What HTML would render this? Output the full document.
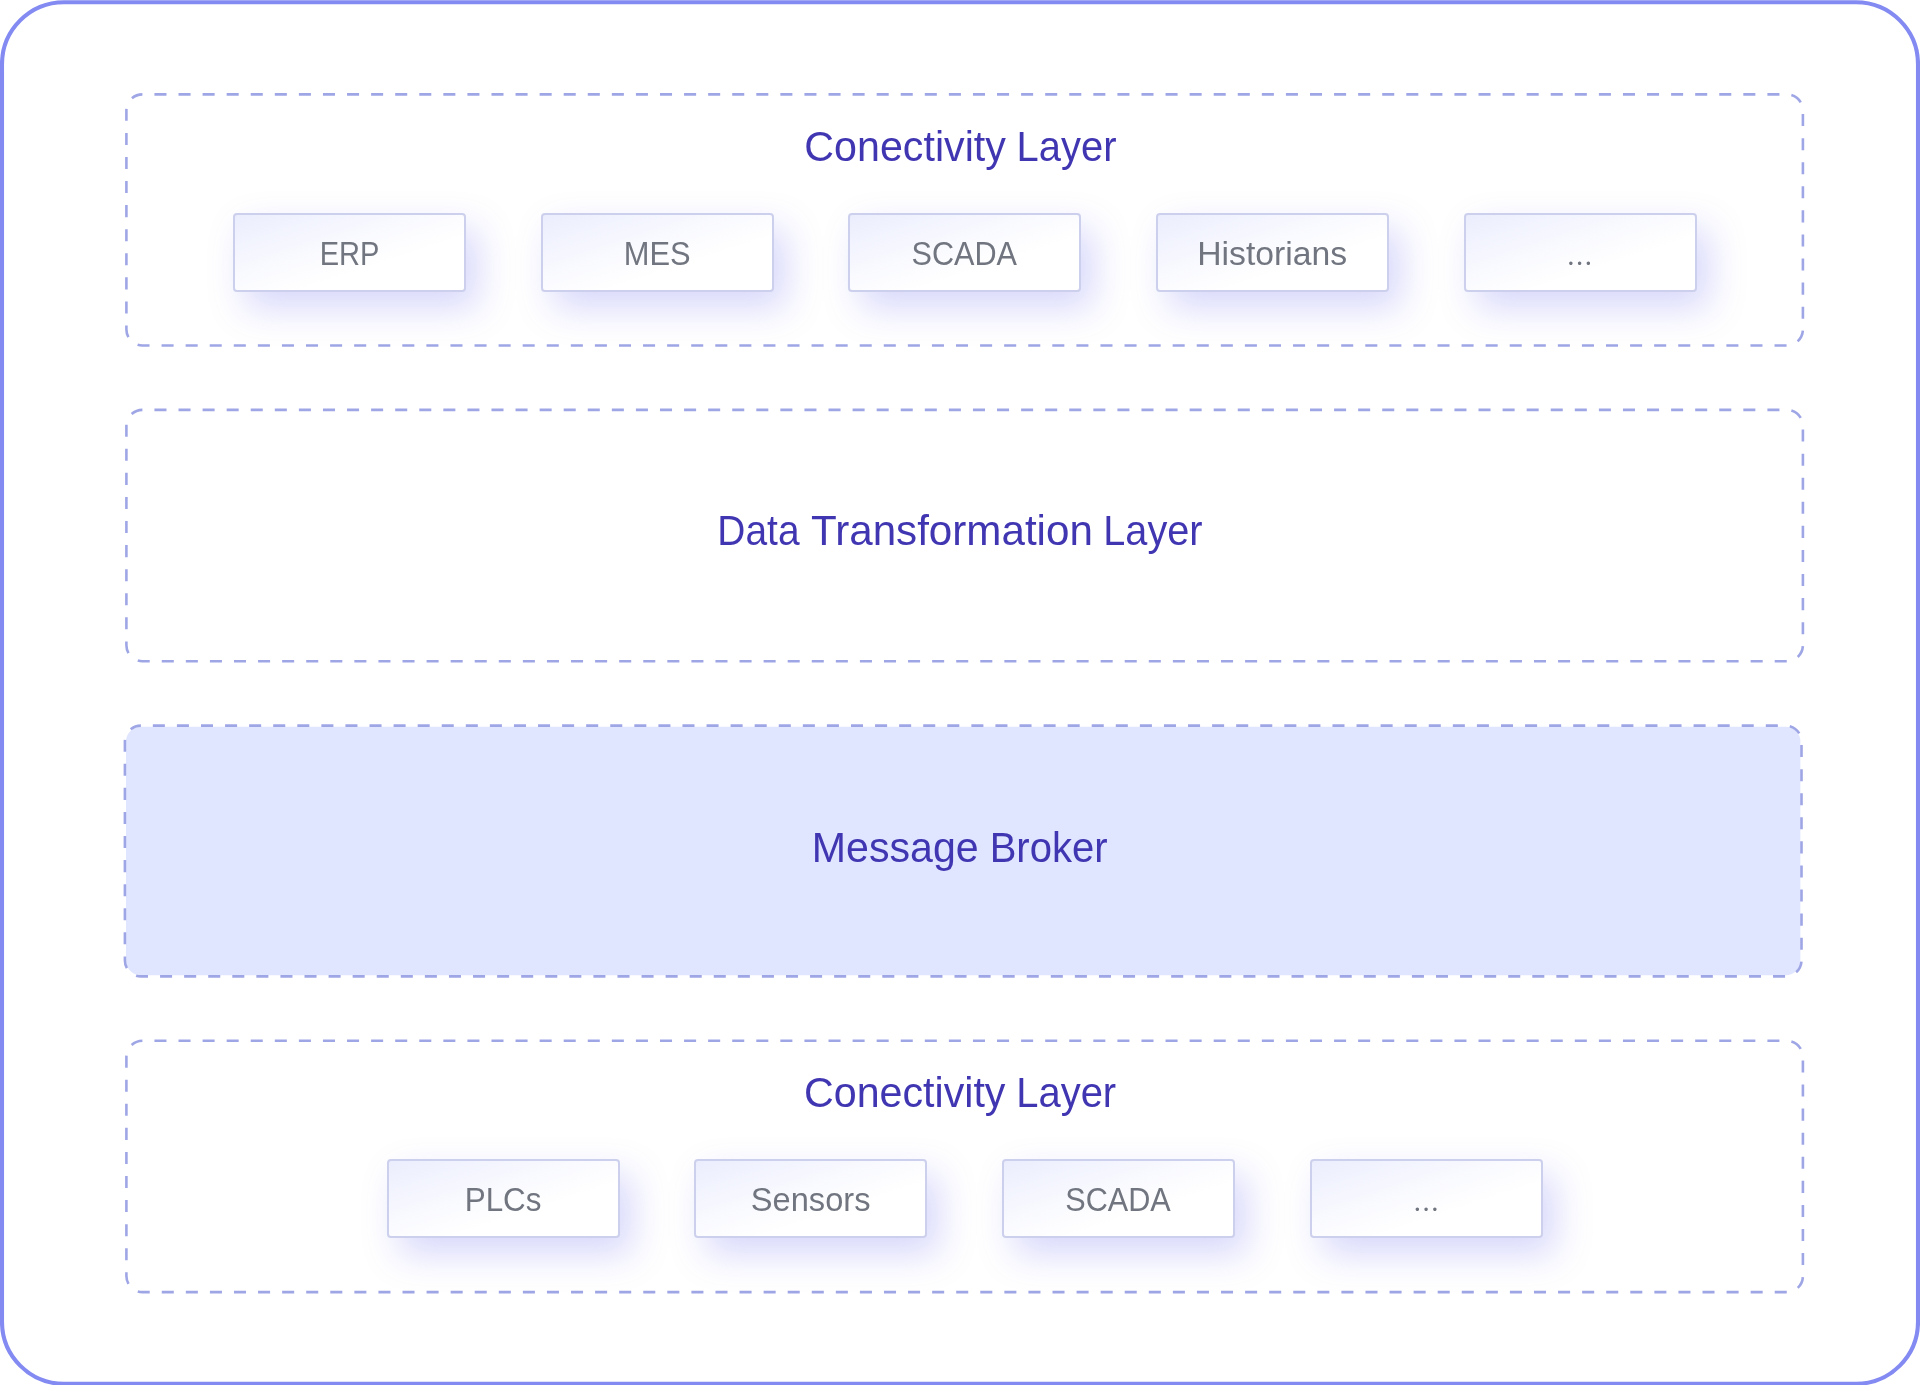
<!DOCTYPE html>
<html><head><meta charset="utf-8"><title>Architecture layers</title>
<style>
html,body{margin:0;padding:0;background:#fff;}
body{width:1920px;height:1385px;overflow:hidden;position:relative;font-family:"Liberation Sans",sans-serif;}
svg.dash,svg.txt{position:absolute;left:0;top:0;}
svg.txt{will-change:transform;}
.box{position:absolute;width:233px;height:79px;box-sizing:border-box;border:2px solid #ccd0ec;border-radius:4px;
 background:linear-gradient(to bottom right,rgba(99,118,241,0.13) 0%,rgba(99,118,241,0.035) 42%,rgba(99,118,241,0) 65%),#fff;box-shadow:12px 16px 36px rgba(99,102,241,0.26);
}
</style></head>
<body>
<svg class="dash" width="1920" height="1385" viewBox="0 0 1920 1385">
<rect x="2" y="2.2" width="1916" height="1381.6" rx="62" fill="none" stroke="#838af2" stroke-width="4.1"/>
<rect x="126.4" y="94.4" width="1676.5" height="251.1" rx="16" fill="none" stroke="#9fa6e5" stroke-width="2.6" stroke-dasharray="12.037 12.037" stroke-dashoffset="12.037"/>
<rect x="126.4" y="409.9" width="1676.5" height="251.3" rx="16" fill="none" stroke="#9fa6e5" stroke-width="2.6" stroke-dasharray="12.037 12.037" stroke-dashoffset="12.037"/>
<rect x="126.00" y="726.70" width="1674.40" height="248.60" rx="15" fill="#e0e6ff"/>
<rect x="124.9" y="725.6" width="1676.6" height="250.8" rx="16" fill="none" stroke="#9fa6e5" stroke-width="2.6" stroke-dasharray="12.037 12.037" stroke-dashoffset="12.137"/>
<rect x="126.4" y="1040.8" width="1676.5" height="251.3" rx="16" fill="none" stroke="#9fa6e5" stroke-width="2.6" stroke-dasharray="12.037 12.037" stroke-dashoffset="12.037"/>
</svg>
<div class="box" style="left:233px;top:213px"></div>
<div class="box" style="left:541px;top:213px"></div>
<div class="box" style="left:848px;top:213px"></div>
<div class="box" style="left:1156px;top:213px"></div>
<div class="box" style="left:1464px;top:213px"></div>
<div class="box" style="left:387px;top:1159px"></div>
<div class="box" style="left:694px;top:1159px"></div>
<div class="box" style="left:1002px;top:1159px"></div>
<div class="box" style="left:1310px;top:1159px"></div>
<svg class="txt" width="1920" height="1385" viewBox="0 0 1920 1385" style='font-family:"Liberation Sans",sans-serif' text-anchor="middle">
<text transform="translate(905.10 160.70) scale(0.9695 1)" font-size="42.5" fill="#4136b2">Conectivity</text>
<text transform="translate(1066.51 160.70) scale(0.9396 1)" font-size="42.5" fill="#4136b2">Layer</text>
<text transform="translate(758.45 544.50) scale(0.9163 1)" font-size="42.5" fill="#4136b2">Data</text>
<text transform="translate(951.92 544.50) scale(0.9918 1)" font-size="42.5" fill="#4136b2">Transformation</text>
<text transform="translate(1152.93 544.50) scale(0.9335 1)" font-size="42.5" fill="#4136b2">Layer</text>
<text transform="translate(895.26 862.30) scale(0.9685 1)" font-size="42.5" fill="#4136b2">Message</text>
<text transform="translate(1048.58 862.30) scale(0.9414 1)" font-size="42.5" fill="#4136b2">Broker</text>
<text transform="translate(904.75 1107.10) scale(0.9693 1)" font-size="42.5" fill="#4136b2">Conectivity</text>
<text transform="translate(1066.21 1107.10) scale(0.9397 1)" font-size="42.5" fill="#4136b2">Layer</text>
<text transform="translate(349.57 264.90) scale(0.8798 1)" font-size="33.0" fill="#71757f">ERP</text>
<text transform="translate(657.13 264.90) scale(0.9353 1)" font-size="33.0" fill="#71757f">MES</text>
<text transform="translate(964.22 264.90) scale(0.9287 1)" font-size="33.0" fill="#71757f">SCADA</text>
<text transform="translate(1272.16 264.90) scale(1.0221 1)" font-size="33.0" fill="#71757f">Historians</text>
<text transform="translate(503.08 1211.40) scale(0.9513 1)" font-size="33.0" fill="#71757f">PLCs</text>
<text transform="translate(810.63 1211.40) scale(0.9881 1)" font-size="33.0" fill="#71757f">Sensors</text>
<text transform="translate(1118.02 1211.40) scale(0.9286 1)" font-size="33.0" fill="#71757f">SCADA</text>
<text transform="translate(1580.45 264.60)" font-size="28.8" fill="#71757f" letter-spacing="1.612" style='font-family:"Liberation Serif",serif'>...</text>
<text transform="translate(1426.89 1211.20)" font-size="28.8" fill="#71757f" letter-spacing="1.606" style='font-family:"Liberation Serif",serif'>...</text>
</svg>
</body></html>
